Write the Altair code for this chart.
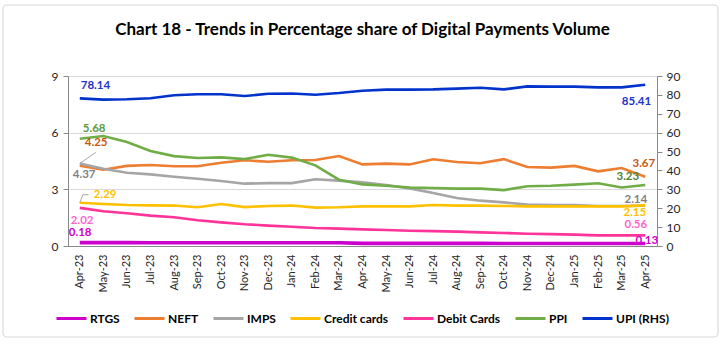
import altair as alt
import pandas as pd

months = ["Apr-23", "May-23", "Jun-23", "Jul-23", "Aug-23", "Sep-23", "Oct-23", "Nov-23",
          "Dec-23", "Jan-24", "Feb-24", "Mar-24", "Apr-24", "May-24", "Jun-24", "Jul-24",
          "Aug-24", "Sep-24", "Oct-24", "Nov-24", "Dec-24", "Jan-25", "Feb-25", "Mar-25", "Apr-25"]

rtgs = [0.18, 0.18, 0.18, 0.17, 0.17, 0.17, 0.17, 0.17, 0.17, 0.17, 0.17, 0.17, 0.14,
        0.14, 0.14, 0.14, 0.14, 0.14, 0.13, 0.13, 0.13, 0.13, 0.13, 0.13, 0.13]
neft = [4.25, 4.04, 4.24, 4.29, 4.22, 4.22, 4.41, 4.54, 4.46, 4.54, 4.55, 4.76, 4.32,
        4.36, 4.32, 4.59, 4.45, 4.38, 4.60, 4.18, 4.15, 4.24, 3.95, 4.13, 3.67]
imps = [4.37, 4.09, 3.88, 3.79, 3.67, 3.56, 3.44, 3.30, 3.33, 3.33, 3.53, 3.46, 3.37,
        3.23, 3.05, 2.81, 2.54, 2.40, 2.31, 2.19, 2.17, 2.17, 2.12, 2.12, 2.14]
credit = [2.29, 2.22, 2.17, 2.15, 2.14, 2.05, 2.22, 2.06, 2.12, 2.14, 2.03, 2.05, 2.10,
          2.10, 2.10, 2.17, 2.14, 2.14, 2.12, 2.10, 2.10, 2.10, 2.10, 2.10, 2.15]
debit = [2.02, 1.84, 1.73, 1.61, 1.52, 1.36, 1.25, 1.15, 1.08, 1.02, 0.95, 0.92, 0.88,
         0.85, 0.81, 0.79, 0.76, 0.72, 0.69, 0.65, 0.63, 0.60, 0.56, 0.56, 0.56]
ppi = [5.68, 5.82, 5.50, 5.03, 4.76, 4.66, 4.69, 4.60, 4.83, 4.68, 4.27, 3.51, 3.26,
       3.19, 3.10, 3.07, 3.04, 3.04, 2.96, 3.16, 3.19, 3.25, 3.32, 3.10, 3.23]
upi = [78.14, 77.5, 77.7, 78.2, 79.8, 80.3, 80.3, 79.4, 80.6, 80.7, 80.1, 81.0, 82.2,
       82.8, 82.8, 82.9, 83.3, 83.8, 82.9, 84.5, 84.4, 84.4, 84.0, 84.0, 85.41]

series_names = ["RTGS", "NEFT", "IMPS", "Credit cards", "Debit Cards", "PPI", "UPI (RHS)"]
series_colors = ["#CC00CC", "#ED7D31", "#A5A5A5", "#FFC000", "#FF3399", "#70AD47", "#0033CC"]

title_text = "Chart 18 - Trends in Percentage share of Digital Payments Volume"

left_data = {"RTGS": rtgs, "NEFT": neft, "IMPS": imps, "Credit cards": credit,
             "Debit Cards": debit, "PPI": ppi}

FONT = "Lato"

rows = []
for name, vals in left_data.items():
    for m, v in zip(months, vals):
        rows.append({"Month": m, "Series": name, "Value": v})
df_left = pd.DataFrame(rows)
df_upi = pd.DataFrame({"Month": months, "Series": "UPI (RHS)", "Value": upi})

color = alt.Color("Series:N",
                  scale=alt.Scale(domain=series_names, range=series_colors),
                  sort=series_names,
                  legend=alt.Legend(title=None, orient="none", legendX=-13, legendY=226,
                                    direction="horizontal", symbolType="stroke",
                                    symbolSize=900, symbolStrokeWidth=3, gridAlign="none",
                                    labelFont=FONT, labelFontSize=12, labelFontWeight="bold",
                                    labelColor="#000000", columnPadding=8, labelOffset=2))

x_enc = alt.X("Month:N", sort=months, title=None,
              scale=alt.Scale(type="point", padding=0.5),
              axis=alt.Axis(labelAngle=270, labelAlign="right", labelBaseline="middle",
                            ticks=False, labelPadding=8, domainColor="#898989",
                            labelFont=FONT, labelFontSize=11, labelColor="#262626",
                            grid=False))

y_left = alt.Y("Value:Q", title=None, scale=alt.Scale(domain=[0, 9], nice=False),
               axis=alt.Axis(values=[0, 3, 6, 9], grid=True, gridColor="#D9D9D9",
                             domainColor="#898989", tickColor="#898989", tickSize=5,
                             labelPadding=5, labelFont=FONT, labelFontSize=12,
                             labelColor="#262626", orient="left"))
y_right = alt.Y("Value:Q", title=None, scale=alt.Scale(domain=[0, 90], nice=False),
                axis=alt.Axis(values=list(range(0, 91, 10)), grid=False,
                              domainColor="#898989", tickColor="#898989", tickSize=5,
                              labelPadding=4, labelFont=FONT, labelFontSize=12,
                              labelColor="#262626", orient="right"))

one = pd.DataFrame({"t": [title_text]})
frame = alt.Chart(one).mark_rect(
    fill=None, stroke="#D9D9D9", strokeWidth=1.2, cornerRadius=4
).encode(x=alt.value(-65), x2=alt.value(650), y=alt.value(-71), y2=alt.value(261))
title_mark = alt.Chart(one).mark_text(
    font=FONT, fontSize=17, fontWeight="bold", color="#000000",
    align="center", baseline="middle"
).encode(x=alt.value(294.5), y=alt.value(-46), text="t:N")

lines_left = alt.Chart(df_left).transform_filter(
    alt.datum.Series != "RTGS").mark_line(strokeWidth=2.6).encode(
    x=x_enc, y=y_left, color=color, detail="Series:N")
line_rtgs = alt.Chart(df_left).transform_filter(
    alt.datum.Series == "RTGS").mark_line(strokeWidth=3.6).encode(
    x=x_enc, y=y_left, color=color)


def label(vals, idx, col, dx, dy, align, y):
    d = pd.DataFrame({"Month": [months[idx]], "Value": [vals[idx]],
                      "Text": [f"{vals[idx]:.2f}"]})
    return alt.Chart(d).mark_text(
        font=FONT, fontSize=11.5, fontWeight="bold", color=col, dx=dx, dy=dy,
        align=align, baseline="middle").encode(x=x_enc, y=y, text="Text:N")


def leader(vals, idx, xo, yo, x2o, y2o):
    d = pd.DataFrame({"Month": [months[idx]], "Value": [vals[idx]]})
    return alt.Chart(d).mark_rule(
        color="#A6A6A6", strokeWidth=1, xOffset=xo, yOffset=yo,
        x2Offset=x2o, y2Offset=y2o).encode(
        x=x_enc, x2="Month:N", y=y_left, y2="Value:Q")


left_labels = [
    label(ppi, 0, "#5E9A3A", 3, -10, "left", y_left),
    label(neft, 0, "#C55A11", 5, -23, "left", y_left),
    label(imps, 0, "#7F7F7F", -7, 12, "left", y_left),
    label(credit, 0, "#FFC000", 14, -8, "left", y_left),
    label(debit, 0, "#FF66CC", -9, 13, "left", y_left),
    label(rtgs, 0, "#CC00CC", -11, -9.5, "left", y_left),
    label(neft, 24, "#C55A11", 10, -13, "right", y_left),
    label(ppi, 24, "#548235", -6, -8, "right", y_left),
    label(imps, 24, "#7F7F7F", 2, -6, "right", y_left),
    label(credit, 24, "#FFC000", 1, 8, "right", y_left),
    label(debit, 24, "#FF66CC", 2, -10, "right", y_left),
    label(rtgs, 24, "#CC00CC", 13, -3, "right", y_left),
]
leaders = [
    leader(imps, 0, 0, 0, 16, -11),
    leader(credit, 0, 0, 0, 3, -8),
    leader(credit, 0, 3, -8, 9, -8),
]

left = alt.layer(frame, title_mark, *leaders, lines_left, line_rtgs, *left_labels)

line_upi = alt.Chart(df_upi).mark_line(strokeWidth=2.6).encode(
    x=x_enc, y=y_right, color=color)
right = alt.layer(
    line_upi,
    label(upi, 0, "#2233CC", 1, -12, "left", y_right),
    label(upi, 24, "#2233CC", 6, 17, "right", y_right),
)

chart = alt.layer(left, right).resolve_scale(y="independent").properties(
    width=589, height=170,
    padding={"left": 68, "top": 76, "right": 69, "bottom": 97},
    autosize=alt.AutoSizeParams(type="none"),
).configure_view(strokeWidth=0).configure(background="white")

chart.save("out.html", embed_options={"renderer": "svg", "actions": False})
